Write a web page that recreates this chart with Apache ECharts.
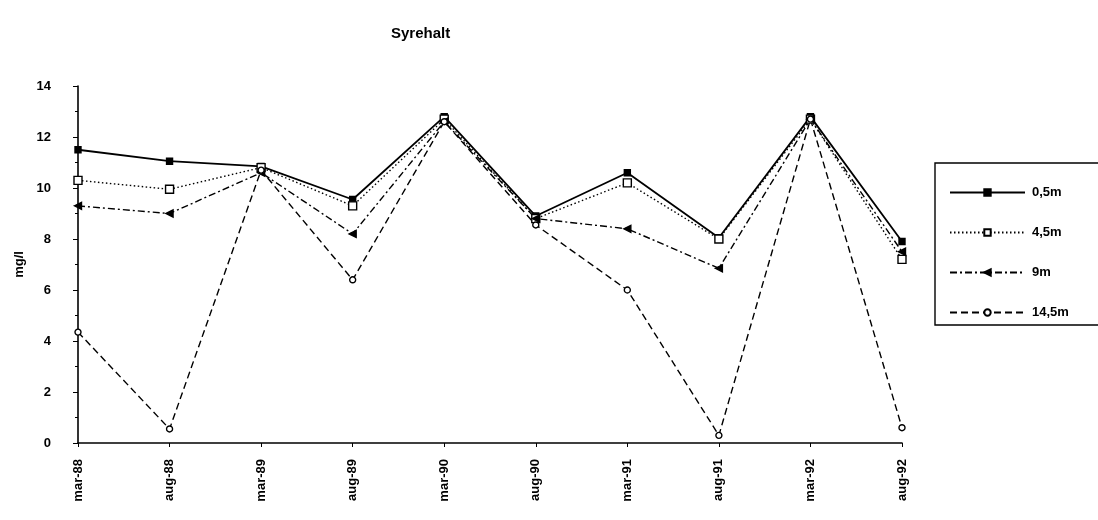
<!DOCTYPE html>
<html>
<head>
<meta charset="utf-8">
<script src="https://cdn.jsdelivr.net/npm/echarts@6/dist/echarts.min.js"></script>
<style>
  html, body { margin: 0; padding: 0; background: #fff; }
  #chart { width: 1098px; height: 520px; }
</style>
</head>
<body>
<div id="chart"></div>
<script>
// Sampling dates
const categories = ['mar-88', 'aug-88', 'mar-89', 'aug-89', 'mar-90', 'aug-90', 'mar-91', 'aug-91', 'mar-92', 'aug-92'];

// Oxygen content (mg/l) per depth
const depth05 = [11.5, 11.05, 10.85, 9.55, 12.8, 8.9, 10.6, 8.05, 12.8, 7.9];
const depth45 = [10.3, 9.95, 10.8, 9.3, 12.7, 8.8, 10.2, 8.0, 12.7, 7.2];
const depth9 = [9.3, 9.0, 10.6, 8.2, 12.6, 8.8, 8.4, 6.85, 12.7, 7.5];
const depth145 = [4.35, 0.55, 10.7, 6.4, 12.6, 8.55, 6.0, 0.3, 12.7, 0.6];

const yTicks = { min: 0, max: 14, interval: 2 };

const font = 'Liberation Sans, Arial, sans-serif';

function series(name, data, symbol, size, filled, lineType, width, rotate) {
  return {
    name: name,
    type: 'line',
    data: data,
    symbol: symbol,
    symbolSize: size,
    symbolRotate: rotate || 0,
    showAllSymbol: true,
    lineStyle: { color: '#000', width: width, type: lineType },
    itemStyle: { color: filled ? '#000' : '#fff', borderColor: '#000', borderWidth: 1.4 },
    emphasis: { disabled: true },
    animation: false
  };
}

const chart = echarts.init(document.getElementById('chart'));
chart.setOption({
  backgroundColor: '#fff',
  animation: false,
  title: {
    text: 'Syrehalt',
    left: 386,
    top: 21,
    textStyle: { fontFamily: font, fontSize: 15, fontWeight: 'bold', color: '#000' }
  },
  legend: {
    orient: 'vertical',
    left: 935,
    top: 163,
    padding: [23, 40, 6, 14],
    itemGap: 27,
    itemWidth: 75,
    itemHeight: 8,
    borderColor: '#000',
    borderWidth: 1.4,
    textStyle: { fontFamily: font, fontSize: 13, fontWeight: 'bold', color: '#000', padding: [0, 0, 0, 2] },
    data: ['0,5m', '4,5m', '9m', '14,5m']
  },
  grid: { left: 78, right: 196, top: 86, bottom: 77, containLabel: false },
  xAxis: {
    type: 'category',
    data: categories,
    boundaryGap: false,
    axisLine: { lineStyle: { color: '#000', width: 1.6 } },
    axisTick: { show: true, alignWithLabel: true, length: 4, lineStyle: { color: '#000' } },
    axisLabel: { rotate: 90, margin: 16, color: '#000', fontFamily: font, fontSize: 13, fontWeight: 'bold', interval: 0 },
    splitLine: { show: false }
  },
  yAxis: {
    type: 'value',
    min: yTicks.min,
    max: yTicks.max,
    interval: yTicks.interval,
    name: 'mg/l',
    nameLocation: 'middle',
    nameRotate: 90,
    nameGap: 52,
    nameTextStyle: { fontFamily: font, fontSize: 13, fontWeight: 'bold', color: '#000' },
    axisLine: { show: true, lineStyle: { color: '#000', width: 1.6 } },
    axisTick: { show: true, length: 5, lineStyle: { color: '#000' } },
    minorTick: { show: true, splitNumber: 2, length: 3, lineStyle: { color: '#000' } },
    axisLabel: { color: '#000', fontFamily: font, fontSize: 13, fontWeight: 'bold', margin: 27 },
    splitLine: { show: false }
  },
  series: [
    series('0,5m', depth05, 'rect', 6, true, 'solid', 1.8),
    series('4,5m', depth45, 'rect', 8, false, [1.5, 2.5], 1.4),
    series('9m', depth9, 'triangle', 7, true, [7, 3, 2, 3], 1.4, 90),
    series('14,5m', depth145, 'circle', 6, false, [7, 4], 1.4)
  ]
});
</script>
</body>
</html>
